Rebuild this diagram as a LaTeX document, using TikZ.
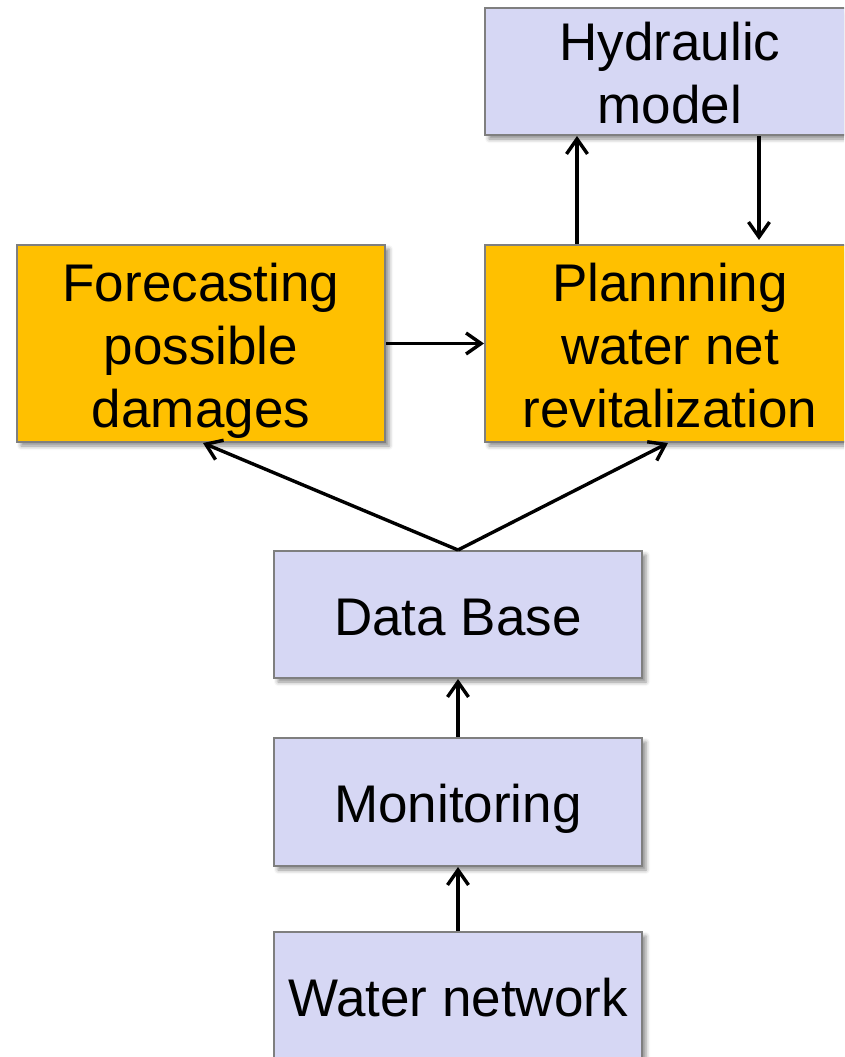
\documentclass[tikz,border=0pt]{standalone}
\usepackage{fontspec}
\setmainfont{Liberation Sans}
\usetikzlibrary{arrows.meta,shadows.blur}
\definecolor{boxlav}{HTML}{D6D7F4}
\definecolor{boxorange}{HTML}{FFC000}
\definecolor{boxedge}{HTML}{7F7F7F}
% centred lines stacked in a box whose baseline is the last line
\newcommand\centredlines[1]{\vbox{\halign{\hfil##\hfil\cr#1\crcr}}}
\begin{document}
\begin{tikzpicture}[x=1pt,y=-1pt,
  box/.style={draw=boxedge, line width=2pt, rectangle, inner sep=0pt,
    font=\fontsize{53}{63}\selectfont, text=black, text depth=0pt,
    blur shadow={shadow xshift=4pt, shadow yshift=-4pt,
      shadow blur radius=4pt, shadow opacity=45}},
  oneline/.style={text height=41pt},
  twolines/.style={text height=104pt},
  threelines/.style={text height=167pt},
  lav/.style={box, fill=boxlav},
  orange/.style={box, fill=boxorange},
  arr/.style={-{Straight Barb[length=15pt,width=21pt]}, line width=3.4pt, black}]
\useasboundingbox (0,0) rectangle (844,1057);
\clip (0,0) rectangle (844,1057);

% boxes
\node[lav, twolines, minimum width=370pt, minimum height=127pt] (hyd) at (670,71.5)
  {\centredlines{Hydraulic\cr model}};
\node[orange, threelines, minimum width=368pt, minimum height=197pt] (fore) at (201,343.5)
  {\centredlines{Forecasting\cr possible\cr damages}};
\node[orange, threelines, minimum width=370pt, minimum height=197pt] (plan) at (670,343.5)
  {\centredlines{Plannning\cr water net\cr revitalization}};
\node[lav, oneline, minimum width=368pt, minimum height=127pt] (db) at (458,614.5) {Data Base};
\node[lav, oneline, minimum width=368pt, minimum height=128pt] (mon) at (458,802) {Monitoring};
\node[lav, oneline, minimum width=368pt, minimum height=127pt] (wat) at (458,995.5) {Water network};

% connectors
\draw[arr] ([xshift=-93pt]plan.north) -- ([xshift=-93pt]hyd.south);
\draw[arr] ([xshift=89pt]hyd.south) -- ([xshift=89pt,yshift=4pt]plan.north);
\draw[arr] (fore.east) -- (plan.west);
\draw[arr] (db.north) -- ([xshift=2pt]fore.south);
\draw[arr] (db.north) -- ([xshift=-2pt]plan.south);
\draw[arr] (mon.north) -- (db.south);
\draw[arr] (wat.north) -- (mon.south);
\end{tikzpicture}
\end{document}
